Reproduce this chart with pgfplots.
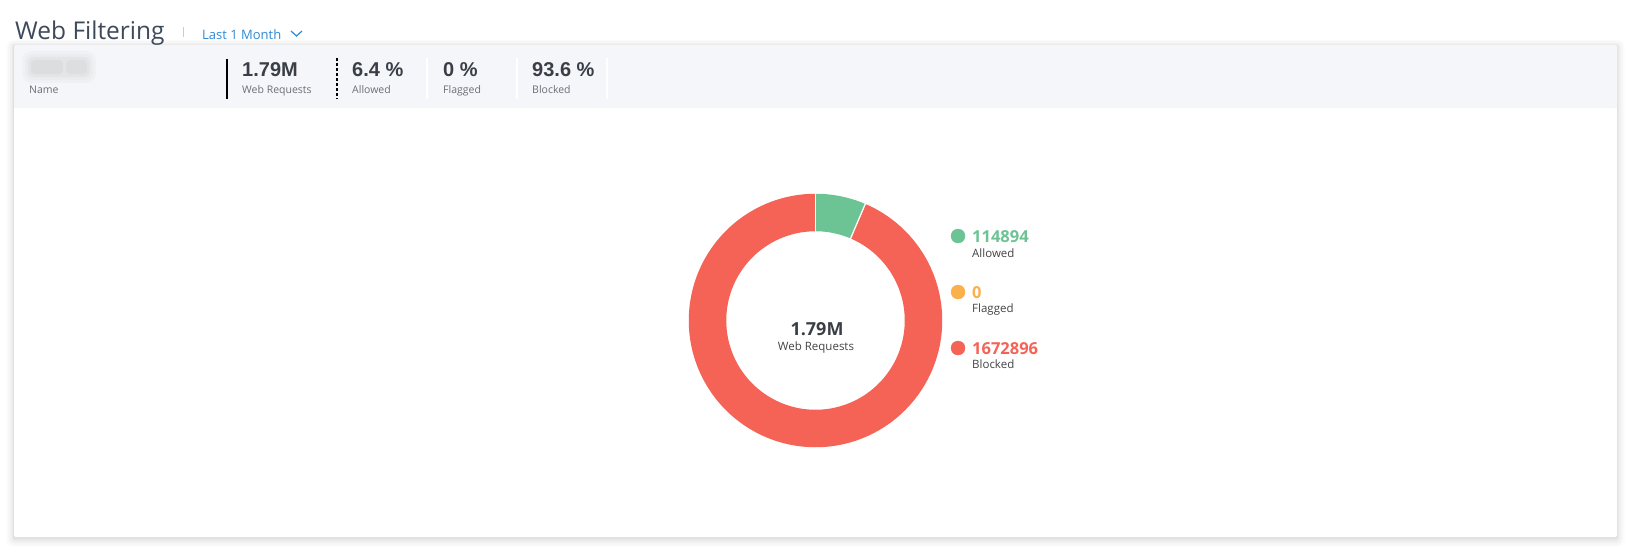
\documentclass[border=0pt]{standalone}
\usepackage{pgfplots}
\pgfplotsset{compat=1.18}
\usepackage{pgfplotstable}
\usepackage{fontspec}
\setmainfont{Open Sans}
\newfontfamily\arialf{Liberation Sans}

\definecolor{allowc}{HTML}{6CC394}
\definecolor{flagc}{HTML}{FBB04C}
\definecolor{blockc}{HTML}{F46356}
\definecolor{titlec}{HTML}{3E4A5C}
\definecolor{linkc}{HTML}{2F8AD6}
\definecolor{stripc}{HTML}{F5F6FA}
\definecolor{labc}{HTML}{6B6E75}
\definecolor{valc}{HTML}{3A3F47}
\definecolor{legc}{HTML}{444444}

\newcommand\fs[1]{\fontsize{#1bp}{#1bp}\selectfont}

% web requests per outcome
\pgfplotstableread{
label   value
Allowed 114894
Flagged 0
Blocked 1672896
}\slices
\pgfplotstablegetelem{0}{value}\of\slices \let\vA\pgfplotsretval
\pgfplotstablegetelem{1}{value}\of\slices \let\vF\pgfplotsretval
\pgfplotstablegetelem{2}{value}\of\slices \let\vB\pgfplotsretval
% angles clockwise from 12 o'clock
\edef\angA{\fpeval{360*\vA/(\vA+\vF+\vB)}}
\edef\angF{\fpeval{360*(\vA+\vF)/(\vA+\vF+\vB)}}

\def\cx{815.5}
\def\cy{320.5}

\begin{document}
\begin{tikzpicture}
\begin{axis}[
  scale only axis, width=1626bp, height=551bp,
  xmin=0, xmax=1626, ymin=0, ymax=551, y dir=reverse,
  hide axis, clip=false]
\fill[white] (0,0) rectangle (1626,551);
% card with soft shadow
\fill[black, opacity=0.012, rounded corners=8bp] (6,40) rectangle (1625,547);
\fill[black, opacity=0.018, rounded corners=6bp] (8,41) rectangle (1623,545);
\fill[black, opacity=0.025, rounded corners=4bp] (10,43) rectangle (1621,543);
\fill[black, opacity=0.03, rounded corners=3bp] (12,44) rectangle (1619,541);
\fill[black, opacity=0.035, rounded corners=2bp] (13,45) rectangle (1618,539);
\fill[white, rounded corners=2bp] (14,45) rectangle (1617,537);
\fill[stripc, rounded corners=2bp] (14,45) rectangle (1617,108);
\fill[stripc] (14,60) rectangle (1617,108);

% header
\node[anchor=base west, inner sep=0, text=titlec, font=\fs{24.5}] at (15,40) {Web Filtering};
\draw[gray!40, line width=1bp] (183,27) -- (183,37);
\node[anchor=base west, inner sep=0, text=linkc, font=\fs{13}] at (202,40) {Last 1 Month};
\draw[linkc, line width=1.2bp] (291,31) -- (296.5,36) -- (302,31);

% summary strip (blurred name)
\fill[gray!30, opacity=0.15, rounded corners=9bp] (22,51) rectangle (96,83);
\fill[gray!30, opacity=0.2, rounded corners=8bp] (25,54) rectangle (93,80);
\fill[gray!35, opacity=0.25, rounded corners=6bp] (28,57) rectangle (90,77);
\fill[gray!40, opacity=0.3, rounded corners=4bp] (31,60) rectangle (63,74);
\fill[gray!40, opacity=0.25, rounded corners=4bp] (66,60) rectangle (87,74);
\node[anchor=base west, inner sep=0, text=labc, font=\fs{10.5}] at (29,93) {Name};
\draw[black, line width=1.2bp] (227,59) -- (227,99);
\draw[black, line width=1.1bp, dash pattern=on 3bp off 2bp] (337,58) -- (337,99);
\draw[white, line width=1.2bp] (427,58) -- (427,99);
\draw[white, line width=1.2bp] (517,58) -- (517,99);
\draw[white, line width=1.2bp] (607,58) -- (607,99);
\node[anchor=base west, inner sep=0, text=valc, font=\arialf\bfseries\fs{20}] at (242,77) {1.79M};
\node[anchor=base west, inner sep=0, text=labc, font=\fs{10.5}] at (242,93) {Web Requests};
\node[anchor=base west, inner sep=0, text=valc, font=\arialf\bfseries\fs{20}] at (352,77) {6.4 \%};
\node[anchor=base west, inner sep=0, text=labc, font=\fs{10.5}] at (352,93) {Allowed};
\node[anchor=base west, inner sep=0, text=valc, font=\arialf\bfseries\fs{20}] at (443,77) {0 \%};
\node[anchor=base west, inner sep=0, text=labc, font=\fs{10.5}] at (443,93) {Flagged};
\node[anchor=base west, inner sep=0, text=valc, font=\arialf\bfseries\fs{20}] at (532,77) {93.6 \%};
\node[anchor=base west, inner sep=0, text=labc, font=\fs{10.5}] at (532,93) {Blocked};

% donut: each slice is an arc stroke of the ring width
\addplot[allowc, line width=37.5bp, line cap=butt, domain=0:\angA, samples=40]
  ({\cx+108*sin(x)}, {\cy-108*cos(x)});
% Flagged slice has value 0 and so no extent
\addplot[blockc, line width=37.5bp, line cap=butt, domain=\angF:360, samples=200]
  ({\cx+108*sin(x)}, {\cy-108*cos(x)});
\addplot[white, line width=1.3bp, domain=88:128, samples=2]
  ({\cx+x*sin(0)}, {\cy-x*cos(0)});
\addplot[white, line width=1.3bp, domain=88:128, samples=2]
  ({\cx+x*sin(\angA)}, {\cy-x*cos(\angA)});

\node[anchor=base, inner sep=0, text=valc, font=\bfseries\fs{18}] at (817,335) {1.79M};
\node[anchor=base, inner sep=0, text=legc, font=\fs{11.5}] at (816,350) {Web Requests};

% legend
\addplot[only marks, mark=*, mark size=7bp, allowc] coordinates {(958,236)};
\addplot[only marks, mark=*, mark size=7bp, flagc] coordinates {(958,292)};
\addplot[only marks, mark=*, mark size=7bp, blockc] coordinates {(958,348)};
\node[anchor=base west, inner sep=0, text=allowc, font=\bfseries\fs{16.5}] at (972,242) {114894};
\node[anchor=base west, inner sep=0, text=legc, font=\fs{11.5}] at (972,257) {Allowed};
\node[anchor=base west, inner sep=0, text=flagc, font=\bfseries\fs{16.5}] at (972,298) {0};
\node[anchor=base west, inner sep=0, text=legc, font=\fs{11.5}] at (972,312) {Flagged};
\node[anchor=base west, inner sep=0, text=blockc, font=\bfseries\fs{16.5}] at (972,354) {1672896};
\node[anchor=base west, inner sep=0, text=legc, font=\fs{11.5}] at (972,368) {Blocked};
\end{axis}
\end{tikzpicture}
\end{document}
